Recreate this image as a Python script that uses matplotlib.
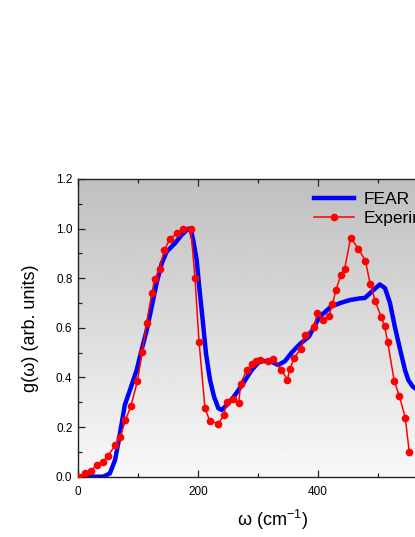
import numpy as np
import matplotlib
matplotlib.use("Agg")
import matplotlib.pyplot as plt

plt.rcParams['font.family'] = ['Liberation Sans', 'DejaVu Sans']
plt.rcParams['mathtext.fontset'] = 'custom'
plt.rcParams['mathtext.rm'] = 'Liberation Sans'
plt.rcParams['mathtext.it'] = 'Liberation Sans'

# FEAR (theory) curve
fear_x = [0, 20, 42, 53, 61.7, 67, 72.8, 78, 86.7, 97.8, 106, 114.5, 122.8, 131,
          139.5, 147.8, 161.7, 172.8, 184, 188, 192, 197.8, 202, 207.8, 213.3, 220,
          226.7, 233.9, 239.5, 247.8, 259, 275.5, 289.5, 303, 320, 334, 345, 356,
          370, 385, 392, 403, 422, 437, 453, 470, 478, 489.5, 503, 511.7, 520, 528,
          537, 545, 550.5, 558, 562, 575]
fear_y = [0, 0, 0, 0.013, 0.067, 0.134, 0.215, 0.289, 0.35, 0.43, 0.511, 0.59,
          0.685, 0.78, 0.86, 0.907, 0.941, 0.975, 1.0, 0.995, 0.954, 0.874, 0.766,
          0.632, 0.497, 0.39, 0.323, 0.276, 0.269, 0.289, 0.32, 0.377, 0.43, 0.466,
          0.466, 0.45, 0.466, 0.5, 0.535, 0.565, 0.598, 0.645, 0.686, 0.70, 0.712,
          0.719, 0.72, 0.746, 0.775, 0.76, 0.70, 0.605, 0.511, 0.43, 0.39, 0.363,
          0.356, 0.34]

# Experiment points
exp_x = [2, 11.7, 21, 32, 41, 50.5, 62, 70, 79, 88, 99, 107, 114.4, 123, 128, 136,
         144, 153, 165, 175, 188, 195, 201.7, 211.7, 219.4, 234, 243, 248, 259, 268,
         271, 281, 290.5, 297, 303, 316, 325.5, 339, 349, 353, 360, 371, 379, 393,
         399, 409, 418, 424, 430, 438, 444.5, 454.5, 467, 479, 487, 495.5, 505, 511,
         516, 527, 535.5, 545.5, 552]
exp_y = [0.0, 0.014, 0.024, 0.047, 0.059, 0.085, 0.128, 0.159, 0.227, 0.284, 0.385,
         0.502, 0.621, 0.739, 0.796, 0.839, 0.914, 0.957, 0.983, 1.0, 1.0, 0.80,
         0.544, 0.276, 0.226, 0.2125, 0.25, 0.301, 0.313, 0.298, 0.374, 0.43, 0.454,
         0.466, 0.469, 0.465, 0.475, 0.43, 0.391, 0.434, 0.477, 0.516, 0.573, 0.602,
         0.66, 0.632, 0.648, 0.696, 0.753, 0.813, 0.839, 0.964, 0.919, 0.871, 0.776,
         0.707, 0.645, 0.608, 0.544, 0.387, 0.325, 0.238, 0.10]

labels = ["FEAR", "Experiment"]

W, H = 415, 537
fig = plt.figure(figsize=(W / 100, H / 100), dpi=100)
left_px, right_px, bottom_px, top_px = 78, 498, 476.7, 179
ax = fig.add_axes([left_px / W, 1 - bottom_px / H,
                   (right_px - left_px) / W, (bottom_px - top_px) / H])

# gradient background
grad = np.linspace(0.975, 0.75, 256).reshape(-1, 1)
ax.imshow(grad, cmap='gray', vmin=0, vmax=1, aspect='auto',
          extent=[0, 1, 0, 1], transform=ax.transAxes, origin='lower', zorder=0)

ax.plot(fear_x, fear_y, color='#0000ff', lw=3.2, label=labels[0], zorder=2,
        solid_joinstyle='round')
ax.plot(exp_x, exp_y, color='#ff0000', lw=1.1, marker='o', ms=4.5, label=labels[1],
        zorder=3)

ax.set_xlim(0, 700)
ax.set_ylim(0, 1.2)
ax.set_xticks([0, 200, 400, 600])
ax.set_xticks([100, 300, 500, 700], minor=True)
ax.set_yticks(np.arange(0, 1.21, 0.2))
ax.set_yticks(np.arange(0.1, 1.2, 0.2), minor=True)
ax.set_yticklabels([f"{v:.1f}" for v in np.arange(0, 1.21, 0.2)])
ax.tick_params(which='both', direction='in', top=True, right=True, labelsize=8.5,
               color='#222222', width=0.9)
ax.tick_params(which='major', length=5)
ax.tick_params(which='minor', length=3)
ax.tick_params(axis='x', pad=6.5)
ax.tick_params(axis='y', pad=4)
for s in ax.spines.values():
    s.set_color('#222222')
    s.set_linewidth(1.0)

ax.set_xlabel("ω (cm$^{-1}$)", fontsize=13)
ax.xaxis.set_label_coords((272 - left_px) / (right_px - left_px), -0.105)
ax.set_ylabel("g(ω) (arb. units)", fontsize=13)
ax.yaxis.set_label_coords(-0.093, 0.5)

leg = ax.legend(loc='upper left', bbox_to_anchor=(314 / W, 1 - 192 / H),
                bbox_transform=fig.transFigure, frameon=False, fontsize=12.5,
                handlelength=2.3, handletextpad=0.55, labelspacing=0.2,
                borderaxespad=0, borderpad=0)

fig.savefig("out.png", dpi=100)
